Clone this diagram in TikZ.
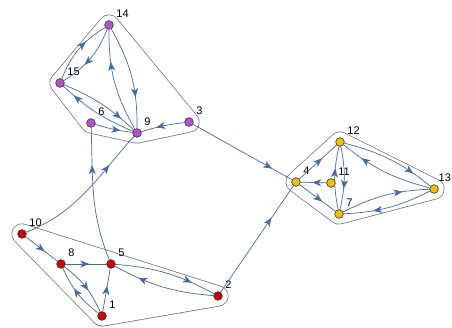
\documentclass[tikz,border=0pt]{standalone}
\usepackage{fontspec}
\setmainfont{Liberation Sans}
\usetikzlibrary{arrows.meta,decorations.markings,backgrounds}
\definecolor{edgec}{RGB}{72,108,158}
\definecolor{purp}{RGB}{185,80,205}
\definecolor{gold}{RGB}{240,192,0}
\definecolor{redn}{RGB}{205,0,0}
\definecolor{hullc}{RGB}{110,110,110}
\begin{document}
\begin{tikzpicture}[x=1pt,y=1pt,
  vtx/.style={circle,draw=black!75,line width=0.5pt,inner sep=0pt,minimum size=8.5pt,
     label={[font=\fontsize{11}{13}\selectfont,label distance=1pt]45:#1}},
  pv/.style={vtx=#1,fill=purp},
  yv/.style={vtx=#1,fill=gold},
  rv/.style={vtx=#1,fill=redn},
  ed/.style={draw=edgec,line width=0.7pt,postaction={decorate},
     decoration={markings,mark=at position #1 with {\arrow{Stealth[length=9pt,width=7pt,inset=2.5pt]}}}},
  ed/.default=0.7,
  hullout/.style={draw=hullc,fill=hullc,line width=21pt,line join=round},
  hullin/.style={draw=white,fill=white,line width=19.6pt,line join=round}]
\useasboundingbox (0,0) rectangle (452,-328);
% nodes
\node[pv=14] (n14) at (109,-25) {};
\node[pv=15] (n15) at (60,-83) {};
\node[pv=6] (n6) at (91,-123) {};
\node[pv=9] (n9) at (137,-133) {};
\node[pv=3] (n3) at (189,-122) {};
\node[yv=12] (n12) at (340,-142) {};
\node[yv=4] (n4) at (296,-182) {};
\node[yv=11] (n11) at (331,-183) {};
\node[yv=7] (n7) at (339,-214) {};
\node[circle,draw=black!75,line width=0.5pt,inner sep=0pt,minimum size=8.5pt,fill=gold,
  label={[font=\fontsize{11}{13}\selectfont,label distance=0pt]75:13}] (n13) at (434,-189) {};
\node[rv=10] (n10) at (22,-234) {};
\node[rv=8] (n8) at (61,-264) {};
\node[rv=5] (n5) at (111,-264) {};
\node[rv=1] (n1) at (102,-316) {};
\node[rv=2] (n2) at (218,-296) {};
% hulls (offset rounded convex hulls)
\begin{scope}[on background layer]
\fill[white] (0,0) rectangle (452,-328);
\foreach \s in {hullout,hullin}{
  \path[\s] (n14.center) -- (n3.center) -- (n9.center) -- (n6.center) -- (n15.center) -- cycle;
  \path[\s] (n10.center) -- (n2.center) -- (n1.center) -- cycle;
  \path[\s] (n12.center) -- (n13.center) -- (n7.center) -- (n4.center) -- cycle;
}
\end{scope}
% edges top
\path[ed=0.65] (n15) to[bend left=18] (n14);
\path[ed=0.62] (n14) to[bend left=18] (n15);
\path[ed=0.7] (n14) to[bend left=15] (n9);
\path[ed=0.69] (n9) to[bend left=15] (n14);
\path[ed=0.8] (n15) to[bend left=10] (n9);
\path[ed=0.83] (n9) to[bend left=10] (n15);
\path[ed=0.68] (n6) to[bend right=5] (n9);
\path[ed=0.65] (n3) to[bend right=5] (n9);
\path[ed=0.8] (n3) -- (n4);
\path[ed=0.7] (n2) -- (n4);
\path[ed=0.72] (n5) to[out=112,in=272] (n6);
\path[ed=0.74] (n10) to[out=22,in=228] (n9);
% right
\path[ed=0.61] (n4) -- (n12);
\path[ed=0.55] (n11) -- (n4);
\path[ed=0.63] (n4) -- (n7);
\path[ed=0.65] (n7) to[bend left=12] (n12);
\path[ed=0.67] (n12) to[bend left=12] (n7);
\path[ed=0.78] (n12) to[bend left=12] (n13);
\path[ed=0.77] (n13) to[bend left=12] (n12);
\path[ed=0.7] (n7) to[bend left=12] (n13);
\path[ed=0.67] (n13) to[bend left=12] (n7);
% bottom
\path[ed=0.6] (n10) -- (n8);
\path[ed=0.58] (n8) -- (n5);
\path[ed=0.58] (n8) to[bend left=14] (n1);
\path[ed=0.6] (n1) to[bend left=14] (n8);
\path[ed=0.6] (n1) -- (n5);
\path[ed=0.76] (n5) to[bend left=12] (n2);
\path[ed=0.75] (n2) to[bend left=12] (n5);
% redraw node discs on top
\foreach \n in {n14,n15,n6,n9,n3}{\fill[purp,draw=black!75,line width=0.5pt] (\n.center) circle (4.25pt);}
\foreach \n in {n12,n4,n11,n7,n13}{\fill[gold,draw=black!75,line width=0.5pt] (\n.center) circle (4.25pt);}
\foreach \n in {n10,n8,n5,n1,n2}{\fill[redn,draw=black!75,line width=0.5pt] (\n.center) circle (4.25pt);}
\end{tikzpicture}
\end{document}
